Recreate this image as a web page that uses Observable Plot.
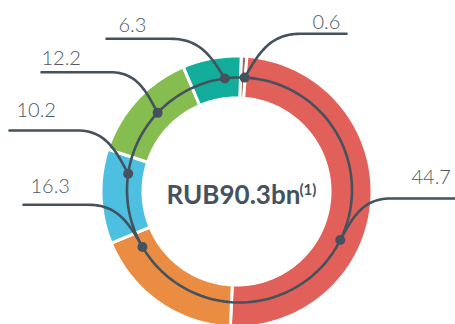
<!DOCTYPE html>
<html>
<head>
<meta charset="utf-8">
<script src="https://cdn.jsdelivr.net/npm/d3@7"></script>
<script src="https://cdn.jsdelivr.net/npm/@observablehq/plot@0.6"></script>
<style>
  html, body { margin: 0; padding: 0; background: #ffffff; }
  #chart { width: 455px; height: 324px; overflow: hidden; }
</style>
</head>
<body>
<div id="chart"></div>
<script>
// ---- data (clockwise from the top) ----
const values = [0.6, 44.7, 16.3, 10.2, 12.2, 6.3];
const labels = ["0.6", "44.7", "16.3", "10.2", "12.2", "6.3"];
const totalLabel = "RUB90.3bn";
const footnoteMark = "(1)";

// ---- styles ----
const palette = ["#9C6B57", "#E2605A", "#EA8D43", "#4DBFE1", "#86BD50", "#13AE9B"];
const ink = "#45525E";
const labelInk = "#4E5A65";

// ---- layout (pixels) ----
const W = 455, H = 324;
const ring = {cx: 236, cy: 191, outer: 135.5, inner: 93.5, startDeg: 2.0};
const track = {cx: 239, cy: 189.5, r: 112.5};
// angle (deg, clockwise from top) of each marker on the track
const markerDeg = [2.6, 116.4, 239.6, 278.3, 313.3, 352.5];
// elbow x, label-line end x, line y, label text x, label text y (centre of digits)
const leaderElbowX = [300, 390, 88, 77, 110, 170];
const leaderEndX   = [346, 456, 23, 9, 41, 106];
const leaderY      = [33.3, 198, 204.3, 130, 71.7, 38.3];
const labelX       = [312, 411, 30, 16, 41, 118];
const labelY       = [22.3, 177.5, 186, 110.5, 58.2, 25.3];

// ---- geometry derived from the data ----
const rad = d => d * Math.PI / 180;
const pie = d3.pie().sort(null)
  .startAngle(rad(ring.startDeg))
  .endAngle(rad(ring.startDeg) + 2 * Math.PI)(values);

const polar = (c, r, a) => ({x: c.cx + r * Math.sin(a), y: c.cy - r * Math.cos(a)});

const slicePolys = pie.map((p, i) => {
  const n = Math.max(6, Math.ceil((p.endAngle - p.startAngle) * 180 / Math.PI));
  const pts = [];
  for (let k = 0; k <= n; k++) {
    const a = p.startAngle + (p.endAngle - p.startAngle) * k / n;
    pts.push({...polar(ring, ring.outer, a), i});
  }
  for (let k = n; k >= 0; k--) {
    const a = p.startAngle + (p.endAngle - p.startAngle) * k / n;
    pts.push({...polar(ring, ring.inner, a), i});
  }
  pts.push({...pts[0]});
  return pts;
});

const trackPts = d3.range(0, 361, 2).map(d => polar(track, track.r, rad(d)));

const markers = values.map((v, i) => ({...polar(track, track.r, rad(markerDeg[i])), i}));

const leaders = [];
values.forEach((v, i) => {
  const D = markers[i];
  const E = {x: leaderElbowX[i], y: leaderY[i]};
  const P1 = {x: E.x + 0.55 * (D.x - E.x), y: E.y};
  const P2 = {x: D.x - 0.25 * (D.x - E.x), y: D.y - 0.55 * (D.y - E.y)};
  leaders.push({x: leaderEndX[i], y: leaderY[i], i});
  for (let k = 0; k <= 30; k++) {
    const t = k / 30, u = 1 - t;
    leaders.push({
      x: u*u*u*E.x + 3*u*u*t*P1.x + 3*u*t*t*P2.x + t*t*t*D.x,
      y: u*u*u*E.y + 3*u*u*t*P1.y + 3*u*t*t*P2.y + t*t*t*D.y,
      i
    });
  }
});

const labelData = labels.map((t, i) => ({x: labelX[i], y: labelY[i], text: t}));

const chart = Plot.plot({
  width: W,
  height: H,
  margin: 0,
  axis: null,
  x: {domain: [0, W], range: [0, W]},
  y: {domain: [0, H], range: [0, H]},
  style: {background: "#ffffff", fontFamily: "Lato, 'Open Sans', sans-serif"},
  marks: [
    ...slicePolys.map((pts, i) => Plot.line(pts, {
      x: "x", y: "y", fill: palette[i], stroke: "#ffffff", strokeWidth: 3, curve: "linear"
    })),
    Plot.line(trackPts, {x: "x", y: "y", stroke: ink, strokeWidth: 2.6, curve: "linear"}),
    Plot.line(leaders, {x: "x", y: "y", z: "i", stroke: ink, strokeWidth: 2.6, curve: "linear", strokeLinecap: "round"}),
    Plot.dot(markers, {x: "x", y: "y", r: 5, fill: ink, stroke: null}),
    Plot.text(labelData, {
      x: "x", y: "y", text: "text", textAnchor: "start", lineAnchor: "middle",
      fontSize: 20, fontWeight: 300, fill: labelInk, fontFamily: "Lato, sans-serif"
    }),
    Plot.text([totalLabel], {
      x: () => ring.cx - 70, y: () => ring.cy + 4, text: d => d,
      textAnchor: "start", lineAnchor: "middle",
      fontSize: 26, fontWeight: "bold", fill: ink, fontFamily: "Lato, sans-serif"
    }),
    Plot.text([footnoteMark], {
      x: () => ring.cx + 63, y: () => ring.cy - 1, text: d => d,
      textAnchor: "start", lineAnchor: "middle",
      fontSize: 15, fontWeight: "bold", fill: ink, fontFamily: "Lato, sans-serif"
    })
  ]
});
document.getElementById("chart").appendChild(chart);
</script>
</body>
</html>
